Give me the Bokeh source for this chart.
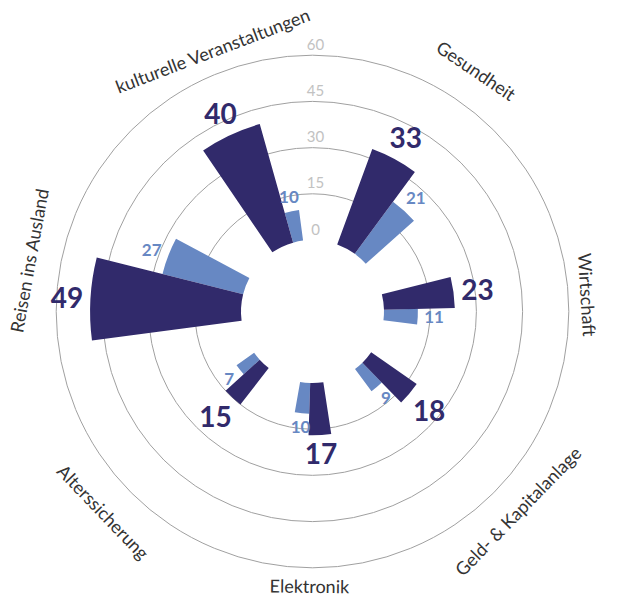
import math
from bokeh.plotting import figure
from bokeh.models import Range1d, ColumnDataSource
from bokeh.embed import file_html
from bokeh.resources import INLINE
from bokeh.core.properties import value

# ---- data ----
categories = ["Gesundheit", "Wirtschaft", "Geld- & Kapitalanlage", "Elektronik",
              "Alterssicherung", "Reisen ins Ausland", "kulturelle Veranstaltungen"]
series_dark = [33, 23, 18, 17, 15, 49, 40]
series_light = [21, 11, 9, 10, 7, 27, 10]
ticks = [0, 15, 30, 45, 60]
tick_labels = ["0", "15", "30", "45", "60"]

DARK = "#312a6b"
LIGHT = "#6788c3"
FONT = "Lato"

# ---- figure ----
W, H = 601, 597
CX, CY = 312, 311
p = figure(width=W, height=H, x_range=Range1d(-CX, W - CX), y_range=Range1d(-(H - CY), CY),
           output_backend="svg", toolbar_location=None, min_border=0)
p.axis.visible = False
p.grid.visible = False
p.outline_line_color = None
p.background_fill_color = "white"

R0, K = 71.5, 3.08


def rad(v):
    return R0 + K * v


def wdeg(v):
    return 4.7 + 0.344 * v


# rings
p.circle(x=[0] * (len(ticks) - 1), y=[0] * (len(ticks) - 1),
         radius=[rad(t) for t in ticks[1:]], fill_color=None,
         line_color="#a0a0a0", line_width=1)

# angular layout (compass degrees, clockwise from north)
total = sum(wdeg(v) for v in series_dark + series_light)
gap = (360 - total) / len(categories)
c = 20.2
d_start, d_end, l_end, centers = [], [], [], []
for dv, lv in zip(series_dark, series_light):
    d0 = c
    d1 = d0 + wdeg(dv)
    l1 = d1 + wdeg(lv)
    d_start.append(d0); d_end.append(d1); l_end.append(l1)
    centers.append((d0 + l1) / 2)
    c = l1 + gap


def m(cdeg):
    return math.radians(90 - cdeg)


dark_src = ColumnDataSource(dict(
    inner=[R0] * len(categories),
    outer=[rad(v) for v in series_dark],
    start=[m(b) for b in d_end],
    end=[m(a) for a in d_start]))
light_src = ColumnDataSource(dict(
    inner=[R0] * len(categories),
    outer=[rad(v) for v in series_light],
    start=[m(b) for b in l_end],
    end=[m(a) for a in d_end]))

p.annular_wedge(x=0, y=0, inner_radius="inner", outer_radius="outer",
                start_angle="start", end_angle="end", source=light_src,
                fill_color=LIGHT, line_color=None)
p.annular_wedge(x=0, y=0, inner_radius="inner", outer_radius="outer",
                start_angle="start", end_angle="end", source=dark_src,
                fill_color=DARK, line_color=None)


def label_pos(v, cdeg, txt, pad, cw, th):
    a = math.radians(cdeg)
    tw = cw * len(txt)
    r = rad(v) + pad + 0.5 * (tw * abs(math.sin(a)) + th * abs(math.cos(a)))
    return r * math.sin(a), r * math.cos(a)


# value labels
dx, dy, dt = [], [], []
for v, a, b in zip(series_dark, d_start, d_end):
    x, y = label_pos(v, (a + b) / 2, str(v), 8, 15, 20)
    dx.append(x); dy.append(y); dt.append(str(v))
p.text(x=dx, y=dy, text=dt, text_font=value(FONT), text_font_style="bold",
       text_font_size="28px", text_color=DARK, text_align="center",
       text_baseline="middle")

lx, ly, lt = [], [], []
for v, a, b in zip(series_light, d_end, l_end):
    x, y = label_pos(v, (a + b) / 2, str(v), 6, 10, 13)
    lx.append(x); ly.append(y); lt.append(str(v))
p.text(x=lx, y=ly, text=lt, text_font=value(FONT), text_font_style="bold",
       text_font_size="17px", text_color=LIGHT, text_align="center",
       text_baseline="middle")

# tick labels
p.text(x=[3] * len(ticks), y=[rad(t) + 11 for t in ticks], text=tick_labels,
       text_font=value(FONT), text_font_size="15px", text_color="#c2c2c2",
       text_align="center", text_baseline="middle")

# category labels
cx_, cy_, ca = [], [], []
FS = 18
for name, cd in zip(categories, centers):
    L = 0.47 * FS * len(name)
    cdn = cd % 360
    if 90 < cdn < 270:
        th = math.radians(180 - cdn)
    else:
        th = math.radians(-cdn)
    a = math.radians(cd)
    r = 293 - 0.5 * (L * L) / (8 * 290)
    hx = 0.5 * (L * abs(math.cos(th)) + FS * abs(math.sin(th)))
    hy = 0.5 * (L * abs(math.sin(th)) + FS * abs(math.cos(th)))
    while True:
        x, y = r * math.sin(a), r * math.cos(a)
        if (x + hx <= W - CX - 2 and x - hx >= -CX + 2 and
                y + hy <= CY - 2 and y - hy >= -(H - CY) + 2):
            break
        r -= 1
    cx_.append(x); cy_.append(y); ca.append(th)
p.text(x=cx_, y=cy_, text=categories, angle=ca, text_font=value(FONT),
       text_font_size=f"{FS}px", text_color="#333333", text_align="center",
       text_baseline="middle")

open("out.html", "w").write(file_html(p, INLINE))
